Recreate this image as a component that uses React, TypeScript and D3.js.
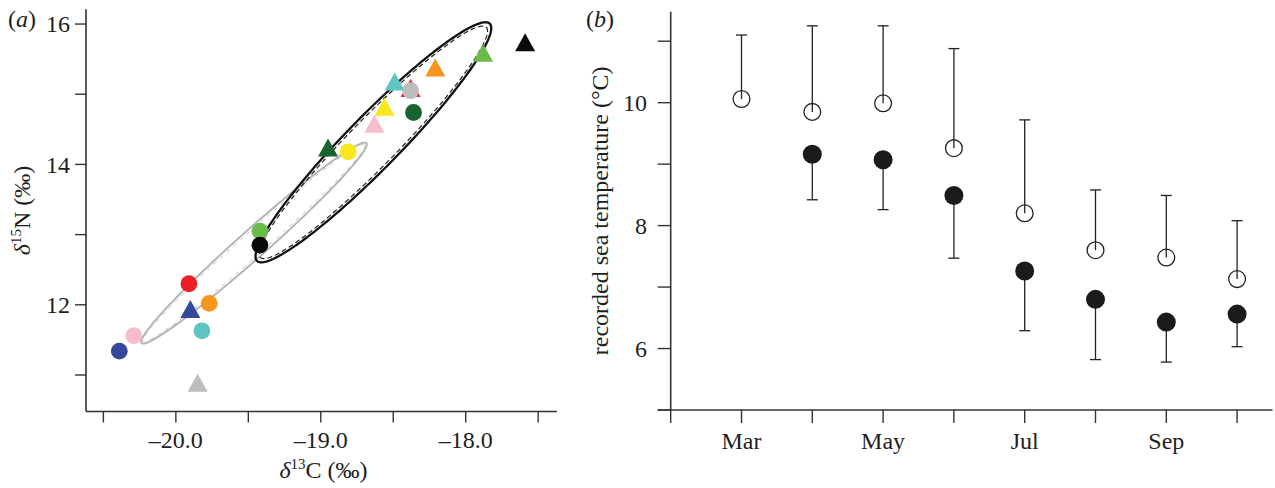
import React from "react";
import * as d3 from "d3";

const W = 1275;
const H = 488;
const FONT = "'Liberation Serif', 'Times New Roman', Times, serif";

// ---------- Panel (a): isotope biplot ----------
const circleC13 = [-20.39, -20.29, -19.91, -19.77, -19.82, -19.42, -19.42, -18.81, -18.38, -18.36];
const circleN15 = [11.34, 11.56, 12.3, 12.02, 11.63, 13.05, 12.85, 14.18, 15.05, 14.74];
const circleColors = ["#34489c", "#f6bdcb", "#ec1f27", "#f7941e", "#5fc5c2", "#69bc47", "#0a0a0a", "#f8e71c", "#bdbdbd", "#176430"];

const triC13 = [-19.9, -19.85, -18.95, -18.63, -18.56, -18.49, -18.38, -18.21, -17.88, -17.59];
const triN15 = [11.94, 10.89, 14.24, 14.58, 14.82, 15.18, 15.09, 15.38, 15.59, 15.74];
const triColors = ["#34489c", "#bdbdbd", "#176430", "#f6bdcb", "#f8e71c", "#5fc5c2", "#ec1f27", "#f7941e", "#69bc47", "#0a0a0a"];

// ellipses: centre, conjugate semi-axis vectors (data units)
const ellipseCentre = [[-19.461, 12.879], [-18.637, 14.315]];
const ellipseMajor = [[0.776, 1.4245], [0.803, 1.69]];
const ellipseMinor = [[0.064, -0.148], [0.13, -0.263]];
const ellipseColors = ["#b3b3b3", "#111111"];

const xTicksA = [-20.5, -20, -19.5, -19, -18.5, -18, -17.5];
const xLabelsA = [-20, -19, -18];
const yTicksA = [11, 12, 13, 14, 15, 16];
const yLabelsA = [12, 14, 16];

// ---------- Panel (b): sea temperature ----------
const monthNames = ["Feb", "Mar", "Apr", "May", "Jun", "Jul", "Aug", "Sep", "Oct"];
const monthIdx = [2, 3, 4, 5, 6, 7, 8, 9, 10];
const monthLabelled = ["Mar", "May", "Jul", "Sep"];

const openMonths = [3, 4, 5, 6, 7, 8, 9, 10];
const openMean = [10.06, 9.85, 9.99, 9.26, 8.2, 7.6, 7.48, 7.13];
const openUpper = [11.1, 11.25, 11.25, 10.88, 9.72, 8.58, 8.49, 8.08];

const filledMonths = [4, 5, 6, 7, 8, 9, 10];
const filledMean = [9.16, 9.07, 8.49, 7.26, 6.8, 6.43, 6.56];
const filledLower = [8.42, 8.26, 7.47, 6.29, 5.82, 5.78, 6.03];

const yTicksB = [5, 6, 7, 8, 9, 10, 11];
const yLabelsB = [6, 8, 10];

const AXIS = "#333";
const TXT = "#1e1e1e";

export default function App() {
  const xA = d3.scaleLinear().domain([-20.62, -17.37]).range([86, 557]);
  const yA = d3.scaleLinear().domain([10.48, 16.21]).range([411.5, 9.3]);
  const xB = d3.scaleLinear().domain([2, 10.5]).range([670.7, 1272.5]);
  const yB = d3.scaleLinear().domain([5, 11.48]).range([410, 11.7]);

  const fmtA = (v: number) => (v < 0 ? "\u2013" : "") + d3.format(".1f")(Math.abs(v));

  const ellipsePath = (i: number, k: number, km: number) => {
    const [cx, cy] = ellipseCentre[i];
    const [ax, ay] = ellipseMajor[i];
    const [bx, by] = ellipseMinor[i];
    const pts: [number, number][] = d3.range(0, 240).map((j) => {
      const t = (j / 240) * Math.PI * 2;
      const dx = cx + k * ax * Math.cos(t) + km * bx * Math.sin(t);
      const dy = cy + k * ay * Math.cos(t) + km * by * Math.sin(t);
      return [xA(dx), yA(dy)];
    });
    return d3.line().curve(d3.curveLinearClosed)(pts) || "";
  };

  const tri = (x: number, y: number) => `M${x},${y - 9}L${x + 10},${y + 9}L${x - 10},${y + 9}Z`;

  const axA = { x0: xA.range()[0], x1: xA.range()[1], y0: yA.range()[0], y1: yA.range()[1] };
  const axB = { x0: xB.range()[0], x1: xB.range()[1], y0: yB.range()[0], y1: yB.range()[1] };

  return (
    <svg
      width={W}
      height={H}
      style={{ position: "absolute", left: 0, top: 0, display: "block", background: "#fff" }}
      fontFamily={FONT}
    >
      <rect x={0} y={0} width={W} height={H} fill="#fff" />

      {/* ================= Panel (a) ================= */}
      <text x={8} y={27} fontSize={24} fill={TXT}>
        (<tspan fontStyle="italic">a</tspan>)
      </text>

      {/* ellipses */}
      <path d={ellipsePath(0, 0.985, 0.82)} fill="none" stroke="#c4c4c4" strokeWidth={1} strokeDasharray="4,5" />
      <path d={ellipsePath(0, 1, 1)} fill="none" stroke={ellipseColors[0]} strokeWidth={1.9} />
      <path d={ellipsePath(1, 0.97, 0.9)} fill="none" stroke="#222" strokeWidth={1.2} strokeDasharray="5,3" />
      <path d={ellipsePath(1, 1, 1)} fill="none" stroke={ellipseColors[1]} strokeWidth={2.3} />

      {/* triangles then circles */}
      {triC13.map((c, i) => (
        <path key={"t" + i} d={tri(xA(c), yA(triN15[i]))} fill={triColors[i]} />
      ))}
      {circleC13.map((c, i) => (
        <circle key={"c" + i} cx={xA(c)} cy={yA(circleN15[i])} r={8.4} fill={circleColors[i]} />
      ))}

      {/* axes a */}
      <line x1={axA.x0} x2={axA.x0} y1={axA.y1} y2={axA.y0} stroke={AXIS} strokeWidth={1.6} />
      <line x1={axA.x0} x2={axA.x1} y1={axA.y0} y2={axA.y0} stroke={AXIS} strokeWidth={1.6} />
      {yTicksA.map((t) => (
        <line key={"yta" + t} x1={axA.x0 - 11} x2={axA.x0} y1={yA(t)} y2={yA(t)} stroke={AXIS} strokeWidth={1.4} />
      ))}
      {yLabelsA.map((t) => (
        <text key={"yla" + t} x={70} y={yA(t)} dy="0.35em" textAnchor="end" fontSize={24} fill={TXT}>
          {t}
        </text>
      ))}
      {xTicksA.map((t) => (
        <line key={"xta" + t} x1={xA(t)} x2={xA(t)} y1={axA.y0} y2={axA.y0 + 11} stroke={AXIS} strokeWidth={1.4} />
      ))}
      {xLabelsA.map((t) => (
        <text key={"xla" + t} x={xA(t)} y={448} textAnchor="middle" fontSize={24} fill={TXT}>
          {fmtA(t)}
        </text>
      ))}
      <text x={(axA.x0 + axA.x1) / 2 + 2} y={478} textAnchor="middle" fontSize={24} fill={TXT}>
        <tspan fontStyle="italic">δ</tspan>
        <tspan fontSize={15} dy={-9}>13</tspan>
        <tspan dy={9}>C (‰)</tspan>
      </text>
      <text
        transform={`translate(30,${(axA.y0 + axA.y1) / 2}) rotate(-90)`}
        textAnchor="middle"
        fontSize={24}
        fill={TXT}
      >
        <tspan fontStyle="italic">δ</tspan>
        <tspan fontSize={15} dy={-9}>15</tspan>
        <tspan dy={9}>N (‰)</tspan>
      </text>

      {/* ================= Panel (b) ================= */}
      <text x={586} y={27} fontSize={24} fill={TXT}>
        (<tspan fontStyle="italic">b</tspan>)
      </text>

      {openMonths.map((m, i) => {
        const x = xB(m);
        return (
          <g key={"o" + m}>
            <line x1={x} x2={x} y1={yB(openMean[i])} y2={yB(openUpper[i])} stroke="#222" strokeWidth={1.3} />
            <line x1={x - 5.5} x2={x + 5.5} y1={yB(openUpper[i])} y2={yB(openUpper[i])} stroke="#222" strokeWidth={1.3} />
            <circle cx={x} cy={yB(openMean[i])} r={8.4} fill="none" stroke="#222" strokeWidth={1.3} />
          </g>
        );
      })}
      {filledMonths.map((m, i) => {
        const x = xB(m);
        return (
          <g key={"f" + m}>
            <line x1={x} x2={x} y1={yB(filledMean[i])} y2={yB(filledLower[i])} stroke="#222" strokeWidth={1.3} />
            <line x1={x - 5.5} x2={x + 5.5} y1={yB(filledLower[i])} y2={yB(filledLower[i])} stroke="#222" strokeWidth={1.3} />
            <circle cx={x} cy={yB(filledMean[i])} r={9.5} fill="#1b1b1b" />
          </g>
        );
      })}

      {/* axes b */}
      <line x1={axB.x0} x2={axB.x0} y1={axB.y1} y2={axB.y0} stroke={AXIS} strokeWidth={1.6} />
      <line x1={axB.x0 - 13} x2={axB.x1} y1={axB.y0} y2={axB.y0} stroke={AXIS} strokeWidth={1.6} />
      {yTicksB.map((t) => (
        <line key={"ytb" + t} x1={axB.x0 - 13} x2={axB.x0} y1={yB(t)} y2={yB(t)} stroke={AXIS} strokeWidth={1.4} />
      ))}
      {yLabelsB.map((t) => (
        <text key={"ylb" + t} x={647} y={yB(t)} dy="0.35em" textAnchor="end" fontSize={24} fill={TXT}>
          {t}
        </text>
      ))}
      {monthIdx.map((m) => (
        <line key={"xtb" + m} x1={xB(m)} x2={xB(m)} y1={axB.y0} y2={axB.y0 + 13} stroke={AXIS} strokeWidth={1.4} />
      ))}
      {monthIdx.map((m, i) =>
        monthLabelled.includes(monthNames[i]) ? (
          <text key={"xlb" + m} x={xB(m)} y={449} textAnchor="middle" fontSize={24} fill={TXT}>
            {monthNames[i]}
          </text>
        ) : null
      )}
      <text
        transform={`translate(608,${(axB.y0 + axB.y1) / 2}) rotate(-90)`}
        textAnchor="middle"
        fontSize={24}
        fill={TXT}
      >
        recorded sea temperature (°C)
      </text>
    </svg>
  );
}
